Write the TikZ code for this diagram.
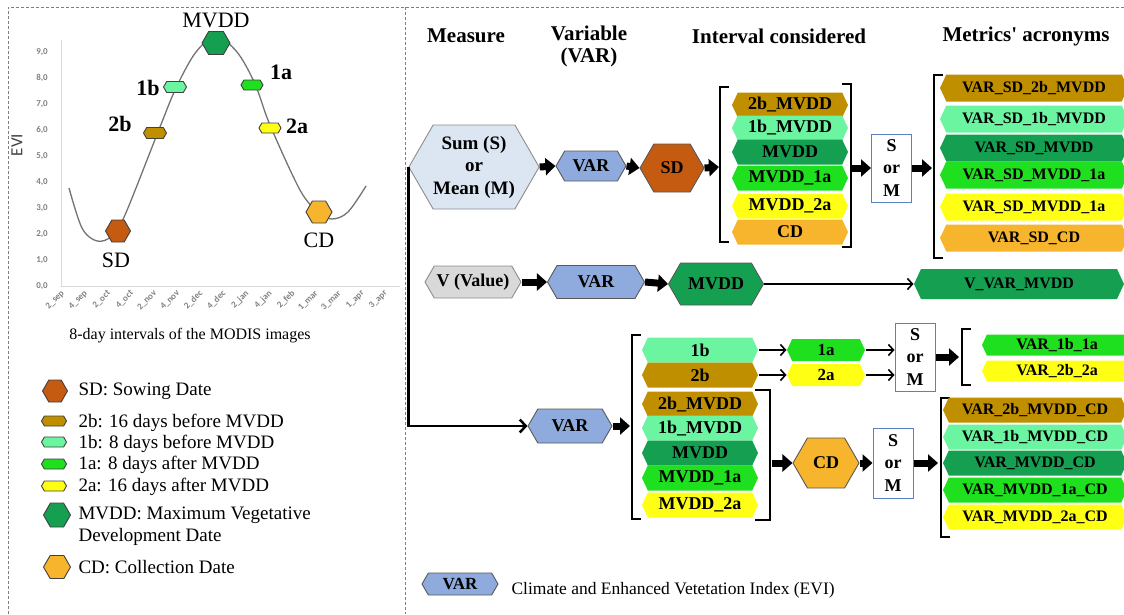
\documentclass[tikz,border=0pt]{standalone}
\usepackage{fontspec}
\setmainfont{Liberation Serif}
\newfontfamily\chartfont{Carlito}
\usetikzlibrary{shapes.symbols,arrows.meta}

\newcommand{\sizept}[2]{\fontsize{#1}{#2}\selectfont}

\definecolor{sdcol}{HTML}{C55A11}
\definecolor{twobcol}{HTML}{BF8F00}
\definecolor{onebcol}{HTML}{6CF5A0}
\definecolor{mvddcol}{HTML}{14A050}
\definecolor{oneacol}{HTML}{1EE01E}
\definecolor{twoacol}{HTML}{FFFF14}
\definecolor{cdcol}{HTML}{F6B52C}
\definecolor{varcol}{HTML}{8FAADC}
\definecolor{sumcol}{HTML}{DCE6F2}
\definecolor{valcol}{HTML}{D9D9D9}
\definecolor{smcol}{HTML}{5B80C0}
\definecolor{framecol}{HTML}{7F7F7F}
\definecolor{axiscol}{HTML}{D9D9D9}
\definecolor{tickcol}{HTML}{808080}

\tikzset{
  hexa/.style={signal, signal to=east and west, signal pointer angle=120,
    draw=black!65, line width=0.9pt, inner sep=0pt, font=\bfseries\sizept{18}{21}},
  bar/.style={hexa, draw=none, signal pointer angle=130},
  evimark/.style={hexa, draw=black!75, line width=0.9pt},
  smbox/.style={draw=smcol, line width=1pt, fill=white, minimum width=40pt,
    minimum height=68pt, align=center, inner sep=0pt, font=\bfseries\sizept{18}{22.5}},
  fat/.style={line width=7pt, -{Triangle[length=10pt,width=17pt]}},
  slim/.style={line width=1.6pt, -{Straight Barb[length=5pt,width=11pt]}},
  brk/.style={line width=2.2pt},
  head/.style={font=\bfseries\sizept{21}{22}, align=center},
  keytext/.style={anchor=base west, font=\sizept{19}{22}},
  ticklab/.style={font=\chartfont\bfseries\sizept{9}{10}, text=tickcol, inner sep=0pt},
}

\begin{document}
\begin{tikzpicture}[x=1pt, y=-1pt]
    \useasboundingbox (0,0) rectangle (1124,614);

    % Frame
    \draw[framecol, line width=0.8pt, dash pattern=on 3pt off 2pt] (8,614) -- (8,7) -- (1124,7);
    \draw[framecol, line width=0.8pt, dash pattern=on 3pt off 2pt] (405,7) -- (405,614);

    % Chart axes
    \draw[axiscol, line width=0.8pt] (61,40) -- (61,286) -- (400,286);
    \foreach \k in {0,...,9}
        \node[ticklab, anchor=east] (ytick\k) at (48,286-26*\k) {\k,0};
    \foreach \lab [count=\i from 0] in {2\_sep,4\_sep,2\_oct,4\_oct,2\_nov,4\_nov,2\_dec,4\_dec,2\_jan,4\_jan,2\_feb,1\_mar,3\_mar,1\_apr,3\_apr}
        \node[ticklab, rotate=45, anchor=east] (xtick\i) at (63+23.07*\i,292) {\lab};
    \node[rotate=90, font=\chartfont\sizept{17}{18}, text=black!75] (evi) at (17,145) {EVI};
    \node[font=\sizept{16}{18}] (xtitle) at (190,336) {8-day intervals of the MODIS images};

    % EVI curve
    \draw[black!55, line width=1.3pt] plot[smooth, tension=0.55] coordinates {(69,188) (82,228) (97,241) (112,236) (125,215) (158,132) (176,88) (196,52) (216,37) (237,52) (255,84) (270,125) (300,190) (318,212) (332,219) (348,212) (366,186)};

    % Chart markers
    \node[evimark, fill=sdcol, minimum width=25pt, minimum height=22pt] (msd) at (118,231) {};
    \node[evimark, fill=twobcol, minimum width=23pt, minimum height=11pt] (m2b) at (155,133) {};
    \node[evimark, fill=onebcol, minimum width=23pt, minimum height=11pt] (m1b) at (175,87) {};
    \node[evimark, fill=mvddcol, minimum width=28pt, minimum height=23pt] (mmvdd) at (216,43) {};
    \node[evimark, fill=oneacol, minimum width=22pt, minimum height=10pt] (m1a) at (252,85) {};
    \node[evimark, fill=twoacol, minimum width=22pt, minimum height=10pt] (m2a) at (270,128) {};
    \node[evimark, fill=cdcol, minimum width=26pt, minimum height=22pt] (mcd) at (319,212) {};
    \node[font=\sizept{22}{24}] (lmvdd) at (216,20) {MVDD};
    \node[font=\bfseries\sizept{22}{24}] (l1b) at (148,88) {1b};
    \node[font=\bfseries\sizept{22}{24}] (l2b) at (120,124) {2b};
    \node[font=\bfseries\sizept{22}{24}] (l1a) at (281,72) {1a};
    \node[font=\bfseries\sizept{22}{24}] (l2a) at (297,126) {2a};
    \node[font=\sizept{22}{24}] (lsd) at (116,260) {SD};
    \node[font=\sizept{22}{24}] (lcd) at (319,240) {CD};

    % Left legend
    \node[evimark, fill=sdcol, minimum width=25pt, minimum height=22pt] (ksd) at (55,391) {};
    \node[evimark, fill=twobcol, minimum width=25pt, minimum height=10pt] (k2b) at (54,421) {};
    \node[evimark, fill=onebcol, minimum width=25pt, minimum height=10pt] (k1b) at (54,442) {};
    \node[evimark, fill=oneacol, minimum width=25pt, minimum height=10pt] (k1a) at (54,464) {};
    \node[evimark, fill=twoacol, minimum width=25pt, minimum height=10pt] (k2a) at (54,486) {};
    \node[evimark, fill=mvddcol, minimum width=27pt, minimum height=24pt] (kmvdd) at (57,515) {};
    \node[evimark, fill=cdcol, minimum width=27pt, minimum height=23pt] (kcd) at (57,567) {};
    \node[keytext] (tsd) at (75,395) {SD: Sowing Date};
    \node[keytext] (t2b) at (75,427) {2b: 16 days before MVDD};
    \node[keytext] (t1b) at (75,448) {1b: 8 days before MVDD};
    \node[keytext] (t1a) at (75,469) {1a: 8 days after MVDD};
    \node[keytext] (t2a) at (75,491) {2a: 16 days after MVDD};
    \node[keytext] (tmvdd) at (75,519) {MVDD: Maximum Vegetative};
    \node[keytext] (tdev) at (75,541) {Development Date};
    \node[keytext] (tcd) at (75,573) {CD: Collection Date};

    % Headings
    \node[head] (hmeas) at (466,36) {Measure};
    \node[head] (hvar) at (589,46) {Variable\\(VAR)};
    \node[head] (hint) at (779,36) {Interval considered};
    \node[head] (hmet) at (1026,36) {Metrics\textquotesingle{} acronyms};

    % Row 1: sum or mean
    \node[hexa, fill=sumcol, draw=black!45, minimum width=125pt, minimum height=84pt,
        align=center, font=\bfseries\sizept{19}{22.5}] (sum) at (474,167) {Sum (S)\\or\\Mean (M)};
    \node[hexa, fill=varcol, minimum width=70pt, minimum height=30pt] (var1) at (591,166) {VAR};
    \node[hexa, fill=sdcol, minimum width=64pt, minimum height=48pt] (sd1) at (672,168) {SD};
    \coordinate (br1) at (719,167);
    \draw[fat] (sum.east) -- (var1.west);
    \draw[fat] (var1.east) -- (sd1.west);
    \draw[fat] (sd1.east) -- (br1);
    \draw[brk] (729,87) -- (720,87) -- (720,242) -- (729,242);
    \foreach \y/\c/\t/\n in {105/twobcol/2b\_MVDD/ia, 128/onebcol/1b\_MVDD/ib, 152/mvddcol/MVDD/ic,
                             178/oneacol/MVDD\_1a/id, 206/twoacol/MVDD\_2a/ie, 232/cdcol/CD/if}
        \node[bar, fill=\c, minimum width=116pt, minimum height=25pt] (\n) at (790,\y) {\t};
    \draw[brk] (842,84) -- (851,84) -- (851,247) -- (842,247);
    \coordinate (br1out) at (852,168);
    \node[smbox] (sm1) at (891.5,168) {S\\or\\M};
    \draw[fat] (br1out) -- (sm1.west);
    \coordinate (br2) at (932,168);
    \draw[fat] (sm1.east) -- (br2);
    \draw[brk] (943,75) -- (934,75) -- (934,258) -- (943,258);
    \foreach \y/\c/\t/\n in {88/twobcol/VAR\_SD\_2b\_MVDD/ma, 119/onebcol/VAR\_SD\_1b\_MVDD/mb,
                             148/mvddcol/VAR\_SD\_MVDD/mc, 175/oneacol/VAR\_SD\_MVDD\_1a/md,
                             207/twoacol/VAR\_SD\_MVDD\_1a/me, 238/cdcol/VAR\_SD\_CD/mf}
        \node[bar, fill=\c, minimum width=188pt, minimum height=27pt, font=\bfseries\sizept{16}{18}] (\n) at (1034,\y) {\t};

    % Row 2: value
    \node[hexa, fill=valcol, draw=black!45, minimum width=96pt, minimum height=32pt] (val) at (473,282) {V (Value)};
    \node[hexa, fill=varcol, minimum width=97pt, minimum height=33pt] (var2) at (596,282) {VAR};
    \node[hexa, fill=mvddcol, minimum width=95pt, minimum height=42pt] (mvdd2) at (716,284) {MVDD};
    \node[bar, fill=mvddcol, minimum width=210pt, minimum height=30pt, font=\bfseries\sizept{16}{18}] (vvm) at (1019,284) {V\_VAR\_MVDD};
    \draw[fat] (val.east) -- (var2.west);
    \draw[fat] (var2.east) -- (mvdd2.west);
    \draw[slim] (mvdd2.east) -- (vvm.west);

    % Row 3: differences and CD
    \node[hexa, fill=varcol, minimum width=84pt, minimum height=34pt] (var3) at (570,426) {VAR};
    \draw[line width=2.5pt, -{Straight Barb[length=6pt,width=13pt]}] (sum.west) |- (var3.west);
    \coordinate (br3) at (630,426);
    \draw[fat] (var3.east) -- (br3);
    \draw[brk] (641,335) -- (632,335) -- (632,519) -- (641,519);
    \foreach \y/\c/\t/\n in {350/onebcol/1b/ra, 375/twobcol/2b/rb, 404/twobcol/2b\_MVDD/rc,
                             428/onebcol/1b\_MVDD/rd, 453/mvddcol/MVDD/re, 478/oneacol/MVDD\_1a/rf,
                             505/twoacol/MVDD\_2a/rg}
        \node[bar, fill=\c, minimum width=116pt, minimum height=25pt] (\n) at (700,\y) {\t};
    \draw[brk] (755,390) -- (770,390) -- (770,520) -- (755,520);
    \node[bar, fill=oneacol, minimum width=78pt, minimum height=22pt, font=\bfseries\sizept{17}{19}] (a1) at (826,350) {1a};
    \node[bar, fill=twoacol, minimum width=78pt, minimum height=22pt, font=\bfseries\sizept{17}{19}] (a2) at (826,375) {2a};
    \draw[slim] (ra.east) -- (a1.west);
    \draw[slim] (rb.east) -- (a2.west);
    \node[smbox] (sm2) at (915,357) {S\\or\\M};
    \draw[slim] (a1.east) -- (a1.east -| sm2.west);
    \draw[slim] (a2.east) -- (a2.east -| sm2.west);
    \coordinate (br4) at (959,357);
    \draw[fat] (sm2.east) -- (br4);
    \draw[brk] (971,329) -- (962,329) -- (962,385) -- (971,385);
    \node[bar, fill=oneacol, minimum width=150pt, minimum height=21pt, font=\bfseries\sizept{16}{18}] (v1b1a) at (1057,345) {VAR\_1b\_1a};
    \node[bar, fill=twoacol, minimum width=150pt, minimum height=21pt, font=\bfseries\sizept{16}{18}] (v2b2a) at (1057,371) {VAR\_2b\_2a};
    \coordinate (br5) at (772,463);
    \node[hexa, fill=cdcol, minimum width=66pt, minimum height=50pt] (cd3) at (826,463) {CD};
    \draw[fat] (br5) -- (cd3.west);
    \node[smbox, minimum height=70pt] (sm3) at (893,463) {S\\or\\M};
    \draw[fat] (cd3.east) -- (sm3.west);
    \coordinate (br6) at (938,463);
    \draw[fat] (sm3.east) -- (br6);
    \draw[brk] (950,398) -- (941,398) -- (941,537) -- (950,537);
    \foreach \y/\c/\t/\n in {410/twobcol/VAR\_2b\_MVDD\_CD/ca, 437/onebcol/VAR\_1b\_MVDD\_CD/cb,
                             463/mvddcol/VAR\_MVDD\_CD/cc, 490/oneacol/VAR\_MVDD\_1a\_CD/cx,
                             517/twoacol/VAR\_MVDD\_2a\_CD/ce}
        \node[bar, fill=\c, minimum width=184pt, minimum height=25pt, font=\bfseries\sizept{16}{18}] (\n) at (1035,\y) {\t};

    % Bottom key
    \node[hexa, fill=varcol, minimum width=76pt, minimum height=22pt, font=\bfseries\sizept{17}{19}] (varkey) at (460,584) {VAR};
    \node[anchor=base west, font=\sizept{17.5}{20}] (varkeytxt) at (508,594) {Climate and Enhanced Vetetation Index (EVI)};
\end{tikzpicture}
\end{document}
